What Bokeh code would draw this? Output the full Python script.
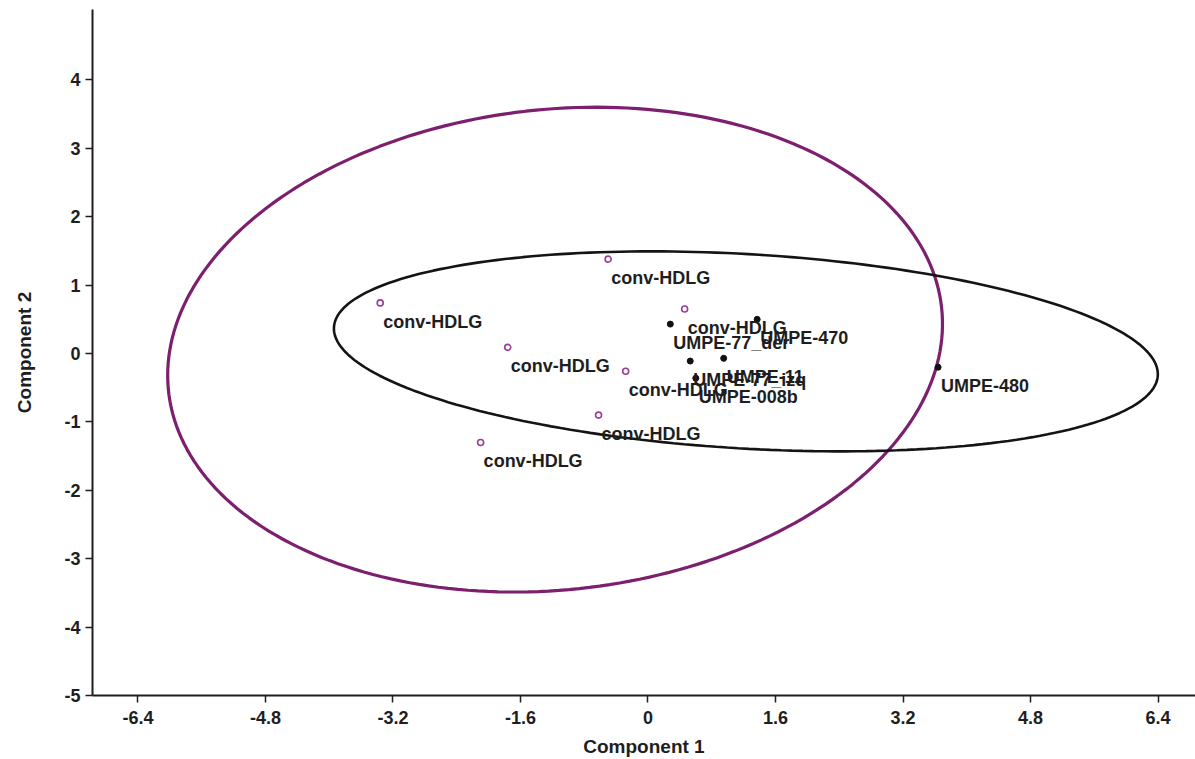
import numpy as np
from bokeh.plotting import figure
from bokeh.models import FixedTicker, ColumnDataSource, Range1d
from bokeh.embed import file_html
from bokeh.resources import INLINE
from bokeh.core.properties import value

# PCA scores (Component 1, Component 2)
conv_names = ["conv-HDLG"] * 7
conv_x = [-0.50, -3.36, -1.76, 0.46, -0.28, -0.62, -2.10]
conv_y = [1.38, 0.74, 0.09, 0.65, -0.26, -0.90, -1.30]

umpe_names = ["UMPE-77_der", "UMPE-470", "UMPE-77_izq", "UMPE-11", "UMPE-008b", "UMPE-480"]
umpe_x = [0.28, 1.37, 0.53, 0.95, 0.60, 3.64]
umpe_y = [0.43, 0.50, -0.11, -0.07, -0.36, -0.20]

x_ticks = [-6.4, -4.8, -3.2, -1.6, 0.0, 1.6, 3.2, 4.8, 6.4]
x_tick_labels = ["-6.4", "-4.8", "-3.2", "-1.6", "0", "1.6", "3.2", "4.8", "6.4"]
y_ticks = [-5, -4, -3, -2, -1, 0, 1, 2, 3, 4]
y_tick_labels = ["-5", "-4", "-3", "-2", "-1", "0", "1", "2", "3", "4"]

PURPLE = "#7d1f6f"
DOT_PURPLE = "#9a3c93"
INK = "#1e1e1e"
FONT = "Liberation Sans"


def confidence_ellipse(xs, ys, level=0.95, n_pts=240):
    """95% ellipse of a group of scores (F-based, as in PAST)."""
    xs = np.asarray(xs, float)
    ys = np.asarray(ys, float)
    n = len(xs)
    cov = np.cov(xs, ys)
    d2 = n - 2
    # quantile of F(2, d2) has a closed form
    f_q = d2 / 2.0 * ((1.0 - level) ** (-2.0 / d2) - 1.0)
    k = np.sqrt(2.0 * (n - 1) / (n - 2) * f_q)
    vals, vecs = np.linalg.eigh(cov)
    t = np.linspace(0, 2 * np.pi, n_pts)
    circ = np.vstack([np.cos(t), np.sin(t)])
    pts = vecs @ np.diag(np.sqrt(vals) * k) @ circ
    return pts[0] + xs.mean(), pts[1] + ys.mean()


p = figure(
    width=1195, height=759,
    x_range=Range1d(-6.97, 6.87), y_range=Range1d(-5.0, 5.03),
    output_backend="svg", toolbar_location=None,
    min_border_left=92, min_border_right=0, min_border_top=9, min_border_bottom=64,
)
p.outline_line_color = None
p.xgrid.visible = False
p.ygrid.visible = False
p.background_fill_color = "white"
p.border_fill_color = "white"

# group ellipses
ex, ey = confidence_ellipse(conv_x, conv_y)
p.line(ex, ey, line_color=PURPLE, line_width=3.2)
ux, uy = confidence_ellipse(umpe_x, umpe_y)
p.line(ux, uy, line_color="#141414", line_width=2.6)

conv_src = ColumnDataSource(dict(x=conv_x, y=conv_y, name=conv_names))
umpe_src = ColumnDataSource(dict(x=umpe_x, y=umpe_y, name=umpe_names))

p.scatter("x", "y", source=conv_src, size=6, marker="circle",
          fill_color="white", line_color=DOT_PURPLE, line_width=1.6)
p.scatter("x", "y", source=umpe_src, size=6, marker="circle",
          fill_color="#111111", line_color="#111111")

for src in (conv_src, umpe_src):
    p.text("x", "y", text="name", source=src, x_offset=3, y_offset=19,
           text_font=value(FONT), text_font_style="bold", text_font_size="18px",
           text_color=INK, text_baseline="alphabetic", text_align="left")

# axes
for ax in (p.xaxis[0], p.yaxis[0]):
    ax.axis_line_color = INK
    ax.axis_line_width = 2
    ax.major_tick_line_color = INK
    ax.major_tick_line_width = 1.5
    ax.major_tick_out = 7
    ax.major_tick_in = 0
    ax.minor_tick_line_color = None
    ax.major_label_text_font = FONT
    ax.major_label_text_font_style = "bold"
    ax.major_label_text_font_size = "18px"
    ax.major_label_text_color = INK
    ax.axis_label_text_font = FONT
    ax.axis_label_text_font_style = "bold"
    ax.axis_label_text_font_size = "19px"
    ax.axis_label_text_color = INK

p.xaxis.ticker = FixedTicker(ticks=x_ticks)
p.xaxis.major_label_overrides = dict(zip(x_ticks, x_tick_labels))
p.xaxis.major_label_standoff = 8
p.xaxis.axis_label = "Component 1"
p.xaxis.axis_label_standoff = 9

p.yaxis.ticker = FixedTicker(ticks=y_ticks)
p.yaxis.major_label_overrides = dict(zip(y_ticks, y_tick_labels))
p.yaxis.major_label_standoff = 5
p.yaxis.axis_label = "Component 2"
p.yaxis.axis_label_standoff = 26

open("out.html", "w").write(file_html(p, INLINE))
